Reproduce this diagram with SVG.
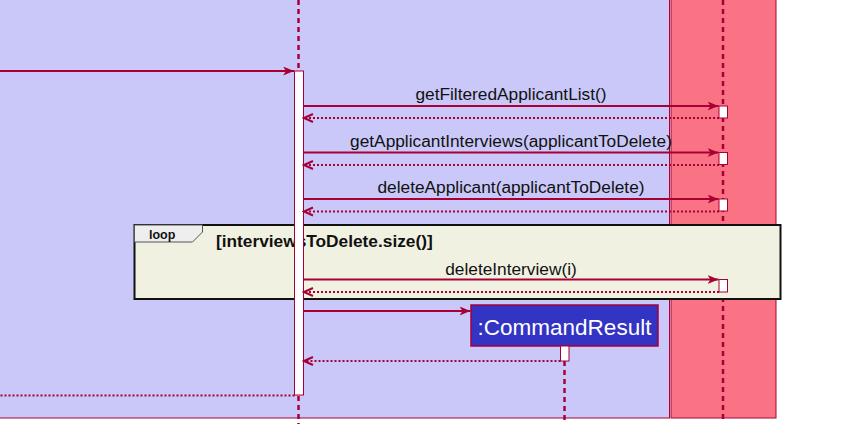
<svg xmlns="http://www.w3.org/2000/svg" width="860" height="446" viewBox="0 0 860 446">
<style>
.msg{font-family:"Liberation Sans",Arial,sans-serif;font-size:17.3px;fill:#111;text-anchor:middle}
.life{stroke:#A80036;stroke-width:2.5;stroke-dasharray:5,4;fill:none}
.act{fill:#fff;stroke:#A80036;stroke-width:1}
.call{stroke:#A80036;stroke-width:2;fill:none}
.ret{stroke:#A80036;stroke-width:2;stroke-dasharray:2,2;fill:none}
</style>
<defs>
<marker id="ah" markerUnits="userSpaceOnUse" markerWidth="12" markerHeight="10" refX="11" refY="4.5" orient="auto">
<path d="M0,0 L11,4.5 L0,9 L3,4.5 Z" fill="#A80036"/>
</marker>
<marker id="oh" markerUnits="userSpaceOnUse" markerWidth="12" markerHeight="12" refX="10" refY="5" orient="auto">
<path d="M1,1 L10,5 L1,9" fill="none" stroke="#A80036" stroke-width="2"/>
</marker>
</defs>
<g id="boxes">
<rect x="-2" y="-2" width="671.5" height="420" fill="#C9C8F8" stroke="#A80036" stroke-width="1"/>
<rect x="671" y="-2" width="105" height="420" fill="#FA7385" stroke="#A80036" stroke-width="1"/>
</g>
<g id="lifeline-logic">
<line class="life" x1="298.5" y1="0" x2="298.5" y2="424"/>
</g>
<g id="lifeline-model">
<line class="life" x1="723" y1="0" x2="723" y2="421"/>
</g>
<g id="loop">
<rect x="134.5" y="225" width="646" height="74" fill="#F1F1E2" stroke="#111" stroke-width="2"/>
<path d="M134.5,225 L202.5,225 L202.5,232 L192.5,242 L134.5,242 Z" fill="#EEEEEE" stroke="#555" stroke-width="1"/>
<text x="149" y="239" font-family="'Liberation Sans',Arial,sans-serif" font-size="12.5" font-weight="bold" fill="#111">loop</text>
<text x="216" y="247" font-family="'Liberation Sans',Arial,sans-serif" font-size="17.3" font-weight="bold" fill="#111">[interviewsToDelete.size()]</text>
</g>
<g id="activation-logic">
<rect class="act" x="294.5" y="71" width="9" height="324"/>
</g>
<g id="activations-model">
<rect class="act" x="719" y="106" width="8.5" height="12"/>
<rect class="act" x="719" y="152.5" width="8.5" height="12"/>
<rect class="act" x="719" y="199" width="8.5" height="12"/>
<rect class="act" x="719" y="279.5" width="8.5" height="12.5"/>
</g>
<g id="commandresult">
<line class="life" x1="564.5" y1="361" x2="564.5" y2="424"/>
<rect x="471" y="305" width="187" height="41" fill="#3333C4" stroke="#A80036" stroke-width="1.5"/>
<text x="564.5" y="335" font-family="'Liberation Sans',Arial,sans-serif" font-size="22.5" fill="#fff" text-anchor="middle">:CommandResult</text>
<rect class="act" x="560.5" y="346" width="8.5" height="15"/>
</g>
<g id="connectors">
<line class="call" x1="0" y1="71" x2="294" y2="71" marker-end="url(#ah)"/>
<line class="call" x1="303.5" y1="106" x2="718.5" y2="106" marker-end="url(#ah)"/>
<line class="ret" x1="719" y1="118" x2="304" y2="118" marker-end="url(#oh)"/>
<line class="call" x1="303.5" y1="152.5" x2="718.5" y2="152.5" marker-end="url(#ah)"/>
<line class="ret" x1="719" y1="165" x2="304" y2="165" marker-end="url(#oh)"/>
<line class="call" x1="303.5" y1="199" x2="718.5" y2="199" marker-end="url(#ah)"/>
<line class="ret" x1="719" y1="211.5" x2="304" y2="211.5" marker-end="url(#oh)"/>
<line class="call" x1="303.5" y1="279.5" x2="718.5" y2="279.5" marker-end="url(#ah)"/>
<line class="ret" x1="719" y1="292" x2="304" y2="292" marker-end="url(#oh)"/>
<line class="call" x1="303.5" y1="311" x2="470.5" y2="311" marker-end="url(#ah)"/>
<line class="ret" x1="560.5" y1="361" x2="304" y2="361" marker-end="url(#oh)"/>
<line class="ret" x1="294.5" y1="395.5" x2="0" y2="395.5"/>
<text class="msg" x="511" y="100">getFilteredApplicantList()</text>
<text class="msg" x="511" y="147">getApplicantInterviews(applicantToDelete)</text>
<text class="msg" x="511" y="193">deleteApplicant(applicantToDelete)</text>
<text class="msg" x="511" y="274.5">deleteInterview(i)</text>
</g>
</svg>
